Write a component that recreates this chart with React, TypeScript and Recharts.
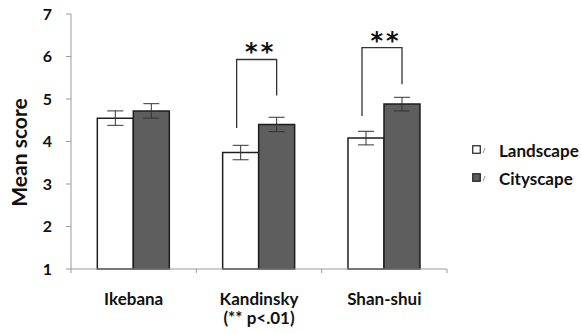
import React from 'react';
import { BarChart, Bar, XAxis, YAxis, ErrorBar, Legend, Rectangle } from 'recharts';

const categories = ['Ikebana', 'Kandinsky', 'Shan-shui'];
const subLabels = ['', '(** p<.01)', ''];
const landscape = [4.55, 3.74, 4.08];
const cityscape = [4.72, 4.4, 4.88];
const landscapeErr = [0.17, 0.17, 0.16];
const cityscapeErr = [0.17, 0.17, 0.16];
const sigMarks = ['', '**', '**'];
const bracketTop = [0, 5.93, 6.21];
const bracketLeftEnd = [0, 4.32, 4.6];
const bracketRightEnd = [0, 5.08, 5.35];
const yTicks = [1, 2, 3, 4, 5, 6, 7];
const seriesNames = ['Landscape', 'Cityscape'];

const data = categories.map((c, i) => ({
  name: c,
  sub: subLabels[i],
  landscape: landscape[i],
  cityscape: cityscape[i],
  landscapeErr: landscapeErr[i],
  cityscapeErr: cityscapeErr[i],
  sig: sigMarks[i],
  bTop: bracketTop[i],
  bLeft: bracketLeftEnd[i],
  bRight: bracketRightEnd[i],
}));

const W = 581;
const H = 333;
const M = { top: 14, right: 134, bottom: 0, left: 0 };
const Y_W = 71;
const X_H = 64;
const BAND_HALF = (W - M.right - M.left - Y_W) / categories.length / 2;
const FONT = 'Lato, "Open Sans", sans-serif';
const AXIS = '#9a9a9a';
const DARK = '#5e5e5e';
const EDGE = '#1e1e1e';

const LandscapeShape = (props: any) => {
  const { x, y, width, height, payload } = props;
  const bottom = y + height;
  const unit = height / (payload.landscape - 1);
  const toPx = (v: number) => bottom - (v - 1) * unit;
  return (
    <g>
      <Rectangle x={x} y={y} width={width} height={height} fill="#ffffff" stroke={EDGE} strokeWidth={1.5} />
      {payload.sig ? (
        <g>
          <path
            d={`M${x + width / 2 - 4},${toPx(payload.bLeft)} L${x + width / 2 - 4},${toPx(payload.bTop)} L${x + width * 1.5},${toPx(payload.bTop)} L${x + width * 1.5},${toPx(payload.bRight)}`}
            fill="none"
            stroke="#333"
            strokeWidth={1.3}
          />
          <text
            x={x + width + 2}
            y={toPx(payload.bTop) + 1}
            textAnchor="middle"
            fontFamily='"DejaVu Sans", sans-serif'
            fontWeight={700}
            fontSize={24}
            letterSpacing={3}
            fill="#111"
          >
            {payload.sig}
          </text>
        </g>
      ) : null}
    </g>
  );
};

const XTick = (props: any) => {
  const { x, y, payload, index } = props;
  const item = data[index] || data.find((d) => d.name === payload.value);
  return (
    <g>
      <line x1={x - BAND_HALF} y1={y} x2={x - BAND_HALF} y2={y + 4} stroke={AXIS} />
      {index === categories.length - 1 ? (
        <line x1={x + BAND_HALF} y1={y} x2={x + BAND_HALF} y2={y + 4} stroke={AXIS} />
      ) : null}
      <text x={x} y={y + 36} textAnchor="middle" fontFamily={FONT} fontWeight={700} fontSize={17} fill="#111">
        {payload.value}
      </text>
      {item && item.sub ? (
        <text x={x} y={y + 55} textAnchor="middle" fontFamily={FONT} fontWeight={700} fontSize={17} fill="#111">
          {item.sub}
        </text>
      ) : null}
    </g>
  );
};

const YLabel = (props: any) => {
  const vb = props.viewBox || { x: 0, y: M.top, width: Y_W, height: H - M.top - X_H };
  const cx = 18;
  const cy = vb.y + vb.height / 2 + 11;
  return (
    <text
      x={cx}
      y={cy}
      transform={`rotate(-90 ${cx} ${cy})`}
      textAnchor="middle"
      dominantBaseline="central"
      fontFamily={FONT}
      fontWeight={700}
      fontSize={21}
      fill="#111"
    >
      Mean score
    </text>
  );
};

const LegendContent = () => (
  <div style={{ fontFamily: FONT, fontWeight: 700, fontSize: 17, color: '#111' }}>
    {seriesNames.map((n, i) => (
      <div key={n} style={{ display: 'flex', alignItems: 'center', height: 28, whiteSpace: 'nowrap' }}>
        <svg width={27} height={14} style={{ flex: 'none' }}>
          <rect x={0.75} y={2.75} width={7.5} height={7.5} fill={i === 0 ? '#fff' : DARK} stroke={EDGE} strokeWidth={1.2} />
          <line x1={11} y1={10} x2={13} y2={5} stroke="#777" strokeWidth={0.8} />
        </svg>
        <span>{n}</span>
      </div>
    ))}
  </div>
);

export default function App() {
  return (
    <div style={{ position: 'absolute', left: 0, top: 0, width: W, height: H, background: '#fff', overflow: 'hidden' }}>
      <BarChart width={W} height={H} data={data} margin={M} barCategoryGap="21%" barGap={0}>
        <XAxis
          dataKey="name"
          height={X_H}
          axisLine={{ stroke: AXIS }}
          tickLine={false}
          tickSize={0}
          tickMargin={0}
          tick={<XTick />}
          interval={0}
        />
        <YAxis
          width={Y_W}
          domain={[1, 7]}
          ticks={yTicks}
          interval={0}
          axisLine={{ stroke: AXIS }}
          tickLine={{ stroke: AXIS }}
          tickSize={5}
          tickMargin={14}
          tick={{ fontFamily: FONT, fontWeight: 700, fontSize: 16, fill: '#111' }}
          label={<YLabel />}
        />
        <Legend
          layout="horizontal"
          align="center"
          verticalAlign="middle"
          content={<LegendContent />}
          wrapperStyle={{ left: 472, top: 136, width: 120 }}
        />
        <Bar dataKey="landscape" name={seriesNames[0]} fill="#ffffff" stroke={EDGE} strokeWidth={1.5} isAnimationActive={false} shape={<LandscapeShape />}>
          <ErrorBar dataKey="landscapeErr" width={8} stroke="#333" strokeWidth={1} direction="y" />
        </Bar>
        <Bar dataKey="cityscape" name={seriesNames[1]} fill={DARK} stroke={EDGE} strokeWidth={1.5} isAnimationActive={false}>
          <ErrorBar dataKey="cityscapeErr" width={8} stroke="#333" strokeWidth={1} direction="y" />
        </Bar>
      </BarChart>
    </div>
  );
}
